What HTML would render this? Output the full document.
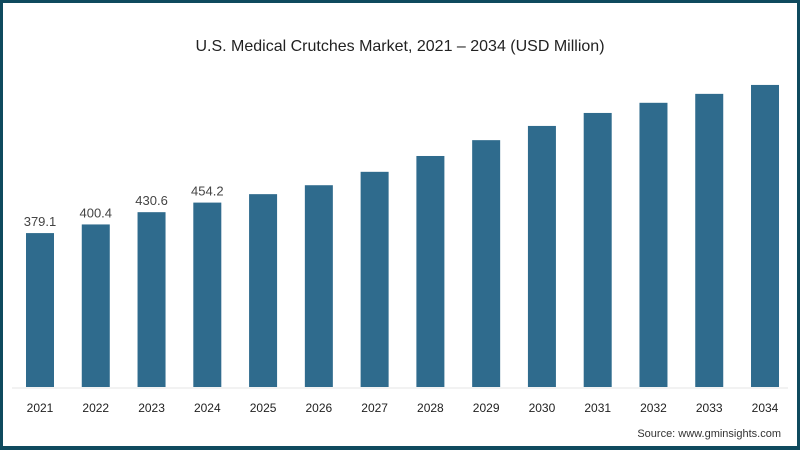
<!DOCTYPE html>
<html><head><meta charset="utf-8"><style>
html,body{margin:0;padding:0;background:#fff}
#wrap{position:relative;width:800px;height:450px;box-sizing:border-box;border:3px solid #0f4a5e;border-bottom-width:4px;background:#fff;font-family:"Liberation Sans",sans-serif}
svg{position:absolute;left:-3px;top:-3px}
</style></head><body>
<div id="wrap">
<svg id="chart" width="800" height="450">
<text x="400" y="51" text-anchor="middle" font-size="16" fill="#222">U.S. Medical Crutches Market, 2021 – 2034 (USD Million)</text>
<line x1="12" y1="388" x2="788" y2="388" stroke="#e4e4e4" stroke-width="1"/>
<text x="781" y="437" text-anchor="end" font-size="11" fill="#333">Source: www.gminsights.com</text>
</svg>
</div>
<script>
const categories=["2021","2022","2023","2024","2025","2026","2027","2028","2029","2030","2031","2032","2033","2034"];
const values=[379.1,400.4,430.6,454.2,475,497,530,569,608,643,675,700,722,744];
const valueLabels=["379.1","400.4","430.6","454.2","","","","","","","","","",""];
const svg=document.getElementById('chart');
const NS='http://www.w3.org/2000/svg';
const baseY=387, scale=0.406, x0=40, step=55.77, bw=28;
function xPos(i){return x0+i*step;}
function yPos(v){return baseY-v*scale;}
categories.forEach((c,i)=>{
  const r=document.createElementNS(NS,'rect');
  r.setAttribute('x',xPos(i)-bw/2);r.setAttribute('y',yPos(values[i]));
  r.setAttribute('width',bw);r.setAttribute('height',baseY-yPos(values[i]));
  r.setAttribute('fill','#2f6b8d');
  
  
  svg.appendChild(r);
  const t=document.createElementNS(NS,'text');
  t.setAttribute('x',xPos(i));t.setAttribute('y',412);t.setAttribute('text-anchor','middle');
  t.setAttribute('font-size','12');t.setAttribute('fill','#222');t.textContent=c;
  
  
  svg.appendChild(t);
  if(valueLabels[i]){
    const l=document.createElementNS(NS,'text');
    l.setAttribute('x',xPos(i));l.setAttribute('y',yPos(values[i])-7);l.setAttribute('text-anchor','middle');
    l.setAttribute('font-size','13');l.setAttribute('fill','#444');l.textContent=valueLabels[i];
    
    
    svg.appendChild(l);
  }
});
</script>
</body></html>
